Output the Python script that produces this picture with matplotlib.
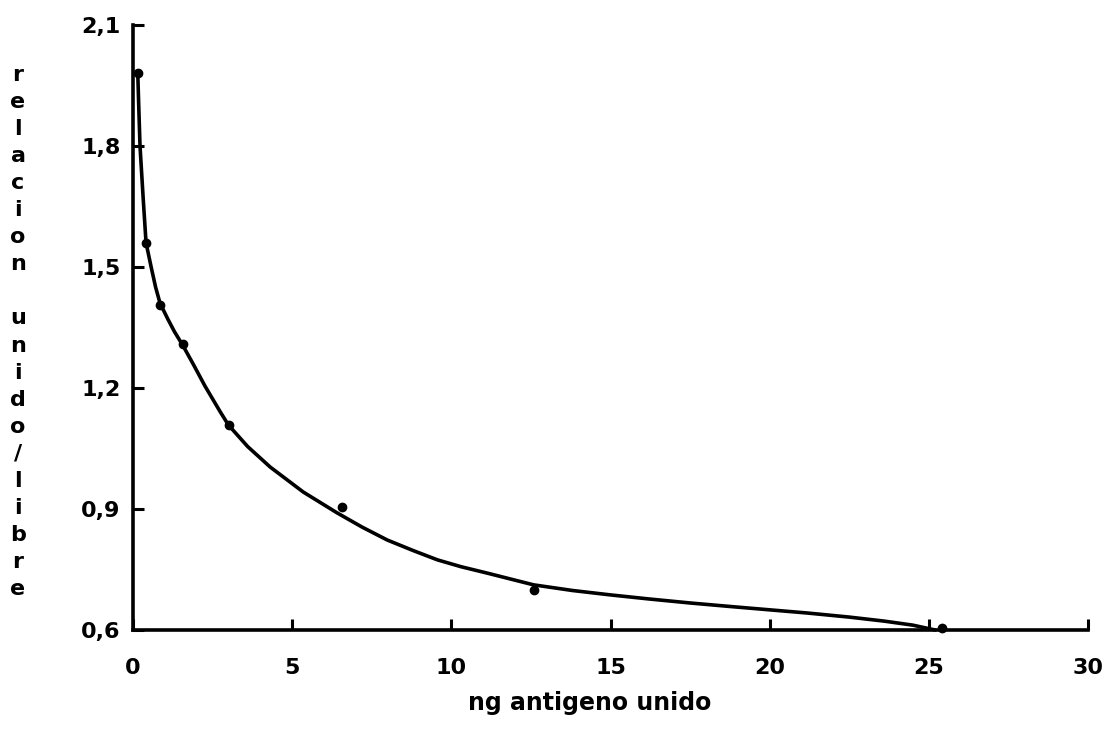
import matplotlib
matplotlib.use("Agg")
import matplotlib.pyplot as plt

# Measured points: bound antigen (ng) vs bound/free ratio
bound_ng = [0.15, 0.41, 0.85, 1.57, 3.0, 6.55, 12.6, 25.4]
ratio = [1.98, 1.56, 1.405, 1.31, 1.108, 0.905, 0.70, 0.605]

# Hand-drawn fitted curve through the measurements
curve_ng = [0.15, 0.18, 0.22, 0.32, 0.41, 0.57, 0.71, 0.85, 1.10, 1.30,
            1.57, 1.90, 2.26, 2.74, 3.00, 3.60, 4.31, 5.35, 6.42, 7.20,
            7.99, 8.80, 9.56, 10.30, 11.13, 12.58, 13.80, 15.00, 16.20,
            17.50, 18.80, 20.00, 21.20, 22.50, 23.60, 24.50, 25.20]
curve_ratio = [1.98, 1.90, 1.80, 1.67, 1.56, 1.50, 1.45, 1.41, 1.37, 1.34,
               1.305, 1.258, 1.205, 1.141, 1.108, 1.055, 1.004, 0.942, 0.890,
               0.855, 0.823, 0.797, 0.774, 0.757, 0.741, 0.712, 0.698, 0.687,
               0.677, 0.667, 0.658, 0.650, 0.642, 0.632, 0.622, 0.612, 0.600]

x_ticks = [0, 5, 10, 15, 20, 25, 30]
x_labels = ["0", "5", "10", "15", "20", "25", "30"]
y_ticks = [0.6, 0.9, 1.2, 1.5, 1.8, 2.1]
y_labels = ["0,6", "0,9", "1,2", "1,5", "1,8", "2,1"]

y_title = "relacion unido/libre"
x_title = "ng antigeno unido"

plt.rcParams["font.family"] = ["DejaVu Sans"]

fig = plt.figure(figsize=(11.18, 7.36), dpi=100)
ax = fig.add_axes([133 / 1118, 106 / 736, (1088 - 133) / 1118, (630 - 25) / 736])

ax.plot(curve_ng, curve_ratio, color="black", lw=2.6, solid_capstyle="round",
        solid_joinstyle="round", clip_on=False, zorder=3)
ax.plot(bound_ng, ratio, "o", color="black", ms=6, clip_on=False, zorder=4)

ax.set_xlim(0, 30)
ax.set_ylim(0.6, 2.1)
ax.set_xticks(x_ticks)
ax.set_xticklabels(x_labels)
ax.set_yticks(y_ticks)
ax.set_yticklabels(y_labels)

for side in ("top", "right"):
    ax.spines[side].set_visible(False)
for side in ("left", "bottom"):
    ax.spines[side].set_linewidth(2.6)
    ax.spines[side].set_color("black")

ax.tick_params(axis="both", direction="in", length=8, width=2.2, colors="black",
               labelsize=16)
ax.tick_params(axis="x", pad=20)
ax.tick_params(axis="y", pad=9)
for lbl in ax.get_xticklabels() + ax.get_yticklabels():
    lbl.set_fontweight("bold")

# x-axis title
fig.text(590 / 1118, 1 - 703 / 736, x_title, ha="center", va="center",
         fontsize=17, fontweight="bold")

# y-axis title written as a vertical column of letters
stacked = "\n".join(" " if ch == " " else ch for ch in y_title)
fig.text(18 / 1118, 1 - 332 / 736, stacked, ha="center", va="center",
         fontsize=16, fontweight="bold", linespacing=1.44)

fig.savefig("out.png", dpi=100, facecolor="white")
